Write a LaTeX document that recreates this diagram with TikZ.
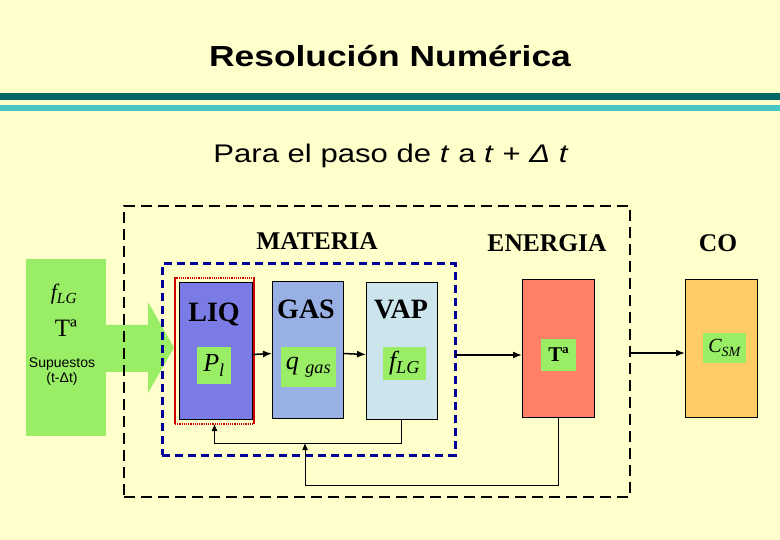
\documentclass[tikz,border=0pt]{standalone}
\usepackage{fontspec}
\setmainfont{Liberation Serif}
\newfontfamily\arialf{Liberation Sans}
\newfontfamily\arialw[FakeStretch=1.22]{Liberation Sans}
\usetikzlibrary{arrows.meta}
\definecolor{bgc}{RGB}{255,255,204}
\definecolor{dteal}{RGB}{0,102,102}
\definecolor{lteal}{RGB}{72,198,198}
\definecolor{grn}{RGB}{153,238,102}
\definecolor{liqc}{RGB}{123,123,230}
\definecolor{gasc}{RGB}{153,176,228}
\definecolor{vapc}{RGB}{204,228,236}
\definecolor{enec}{RGB}{255,128,102}
\definecolor{coc}{RGB}{255,204,102}
\definecolor{navy}{RGB}{0,0,153}
\definecolor{redf}{RGB}{204,0,0}
\begin{document}
\begin{tikzpicture}[x=1pt,y=-1pt]
\tikzset{ >={Latex[length=9pt,width=7pt]}, inner sep=0pt, outer sep=0pt }
\tikzset{blk/.style={draw=black, line width=0.8pt, anchor=north west},
         subbox/.style={fill=grn, anchor=north west, font=\fontsize{26}{28}\selectfont\itshape},
         lbl/.style={anchor=base, font=\fontsize{28}{30}\selectfont\bfseries},
         hdr/.style={anchor=base, font=\fontsize{25.5}{28}\selectfont\bfseries},
         back/.style={->, line width=1pt, >={Latex[length=7pt,width=6pt]}}}
%\draw [lightgray, dashed](0,0) grid (780,540);

\fill [bgc] (0,0) rectangle (780,540);
\useasboundingbox (0,0) rectangle (780,540);

\node [anchor=base, font=\arialw\fontsize{29}{32}\selectfont\bfseries] (title) at (390,67) {Resolución Numérica};
\fill [dteal] (0,93) rectangle (780,100);
\fill [lteal] (0,105) rectangle (780,111);
\node [anchor=base, font=\arialw\fontsize{25.5}{30}\selectfont] (paso) at (391,163) {Para el paso de \textit{t} a \textit{t} + \textit{Δ t}};

% entrada
\fill [grn] (26,259) rectangle (106,436);
\fill [grn] (105,325) -- (148,325) -- (148,302) -- (174,347.5) -- (148,393) -- (148,372) -- (105,372) -- cycle;
\node [anchor=base, font=\fontsize{22}{24}\selectfont\itshape] (fin) at (64,300) {f\textsubscript{LG}};
\node [anchor=base, font=\fontsize{25}{27}\selectfont] (tin) at (66,337) {Tª};
\node [anchor=base, font=\arialf\fontsize{14}{16}\selectfont] (sup) at (62,367) {Supuestos};
\node [anchor=base, font=\arialf\fontsize{14}{16}\selectfont] (dt) at (62,382) {(t-Δt)};

% recuadros
\node [draw, line width=2.5pt, dash pattern=on 11pt off 6pt, minimum width=506, minimum height=291, anchor=north west] (sim) at (124,206) {};
\node [draw=navy, line width=3pt, dash pattern=on 8pt off 5pt, minimum width=293, minimum height=191, anchor=north west] (mat) at (162,264) {};

\node [hdr] (tmat) at (317,250) {MATERIA};
\node [hdr] (tene) at (547,252) {ENERGIA};
\node [hdr] (tco) at (718,252) {CO};

\node [blk, fill=liqc, minimum width=73, minimum height=137] (liq) at (179,282) {};
\node [draw=redf, line width=1.2pt, densely dotted, minimum width=79, minimum height=146, anchor=north west] (liqf) at (175,278) {};
\draw [redf, line width=2pt] (liqf.north west) -- (liqf.south west) (liqf.north east) -- (liqf.south east);
\node [blk, fill=gasc, minimum width=71, minimum height=137] (gas) at (272,281) {};
\node [blk, fill=vapc, minimum width=71, minimum height=137] (vap) at (366,282) {};
\node [blk, fill=enec, minimum width=72, minimum height=138] (ene) at (522,279) {};
\node [blk, fill=coc, minimum width=72, minimum height=138] (co) at (685,279) {};

\node [lbl] (tliq) at (214,322) {LIQ};
\node [lbl] (tgas) at (306,319) {GAS};
\node [lbl] (tvap) at (401,319) {VAP};

\node [subbox, minimum width=34, minimum height=37] (pl) at (197,347) {P\textsubscript{l}};
\node [subbox, minimum width=55, minimum height=40] (qg) at (281,347) {q~\textsubscript{gas}};
\node [subbox, minimum width=43, minimum height=33] (flg) at (383,347) {f\textsubscript{LG}};
\node [subbox, minimum width=35, minimum height=32, font=\fontsize{21}{23}\selectfont\bfseries] (ta) at (541,339) {Tª};
\node [subbox, minimum width=43, minimum height=30, font=\fontsize{20}{22}\selectfont\itshape] (csm) at (703,333) {C\textsubscript{SM}};

% flechas
\draw [->, line width=1.5pt] ([yshift=-4]liq.east) -- ([yshift=-4]gas.west);
\draw [->, line width=1.5pt] ([yshift=-4]gas.east) -- ([yshift=-4]vap.west);
\draw [->, line width=1.5pt] (mat.east |- ta) -- (ene.west |- ta);
\draw [->, line width=1.5pt] ([yshift=-5]sim.east |- co.west) -- ([yshift=-5]co.west);

\coordinate (ret) at (305,443);
\draw [back] (vap.south) -- ++(0,24) -| (liqf.south);
\draw [back] (ene.south) -- ++(0,68) -| (ret);

\end{tikzpicture}
\end{document}
